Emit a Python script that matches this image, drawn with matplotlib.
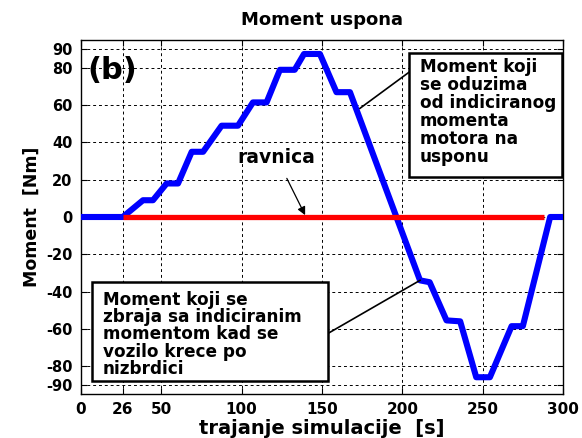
import matplotlib
matplotlib.use("Agg")
import matplotlib.pyplot as plt
from matplotlib.patches import Rectangle

plt.rcParams['font.family'] = ['DejaVu Sans']
plt.rcParams['font.weight'] = 'bold'
plt.rcParams['axes.unicode_minus'] = False

# Grade torque profile (polyline vertices)
vrijeme = [0, 26, 38.6, 44.8, 53.3, 60.4, 68.9, 76, 87.5, 97.7, 107, 115.5,
           123.8, 133, 138.8, 148.7, 159, 167.4, 211, 217, 227.5, 236,
           246, 254.5, 268, 275, 292, 300]
moment = [0, 0, 9, 9, 18, 18, 35, 35, 49, 49, 61.5, 61.5,
          79, 79, 87.5, 87.5, 67, 67, -34, -35, -55.5, -56,
          -86, -86, -58.6, -58.6, 0, 0]

# Flat road reference
ravnica_t = [26, 288]
ravnica_m = [0, 0]

x_ticks = [0, 26, 50, 100, 150, 200, 250, 300]
y_ticks = [-90, -80, -60, -40, -20, 0, 20, 40, 60, 80, 90]

fig = plt.figure(figsize=(5.82, 4.38), dpi=100)
ax = fig.add_axes([81 / 582, 1 - 394 / 438, (563 - 81) / 582, (394 - 40) / 438])

ax.plot(vrijeme, moment, color='#0000ff', lw=4.4, solid_capstyle='butt', zorder=3)
ax.plot(ravnica_t, ravnica_m, color='#ff0000', lw=3.8, solid_capstyle='butt', zorder=4)

ax.set_xlim(0, 300)
ax.set_ylim(-95, 95)
ax.set_xticks(x_ticks)
ax.set_yticks(y_ticks)
ax.tick_params(direction='in', length=4, labelsize=10.5, width=0.8, top=True, right=True)
ax.tick_params(axis='y', pad=6)
ax.tick_params(axis='x', pad=6, labelsize=11)
for lab in ax.get_xticklabels() + ax.get_yticklabels():
    lab.set_fontweight('bold')
ax.grid(True, color='black', linestyle=(0, (3, 3)), linewidth=0.7)
for s in ax.spines.values():
    s.set_linewidth(1.0)

ax.set_title('Moment uspona', fontsize=13, fontweight='bold', pad=11)
ax.set_xlabel('trajanje simulacije  [s]', fontsize=14, fontweight='bold', labelpad=1)
ax.set_ylabel('Moment  [Nm]', fontsize=12.5, fontweight='bold', labelpad=4)

ax.text(4, 74, '(b)', fontsize=22, fontweight='bold', ha='left', va='baseline', zorder=5)

ax.annotate('ravnica', xy=(139.5, 1), xytext=(121.6, 32), fontsize=13.5, fontweight='bold',
            ha='center', va='center', zorder=6,
            arrowprops=dict(arrowstyle='-|>', color='black', lw=0.9, mutation_scale=12,
                            shrinkA=7, shrinkB=0))

# Callout boxes
ax.add_patch(Rectangle((204.1, 21.4), 95.2, 66.8, fc='white', ec='black', lw=1.8, zorder=7))
ax.add_patch(Rectangle((6.8, -88.2), 146.9, 53.4, fc='white', ec='black', lw=1.8, zorder=7))

ax.plot([207.0, 173.6], [79.5, 58.3], color='black', lw=1.2, zorder=6)
ax.plot([153.7, 211.0], [-62.5, -34.0], color='black', lw=1.2, zorder=6)

ax.text(210.9, 85.5, 'Moment koji\nse oduzima\nod indiciranog\nmomenta\nmotora na\nusponu',
        fontsize=12.2, fontweight='bold', ha='left', va='top', linespacing=1.01, zorder=8)

ax.text(13.4, -39.5, 'Moment koji se\nzbraja sa indiciranim\nmomentom kad se\nvozilo krece po\nnizbrdici',
        fontsize=12.2, fontweight='bold', ha='left', va='top', linespacing=0.96, zorder=8)

fig.savefig('out.png', dpi=100)
